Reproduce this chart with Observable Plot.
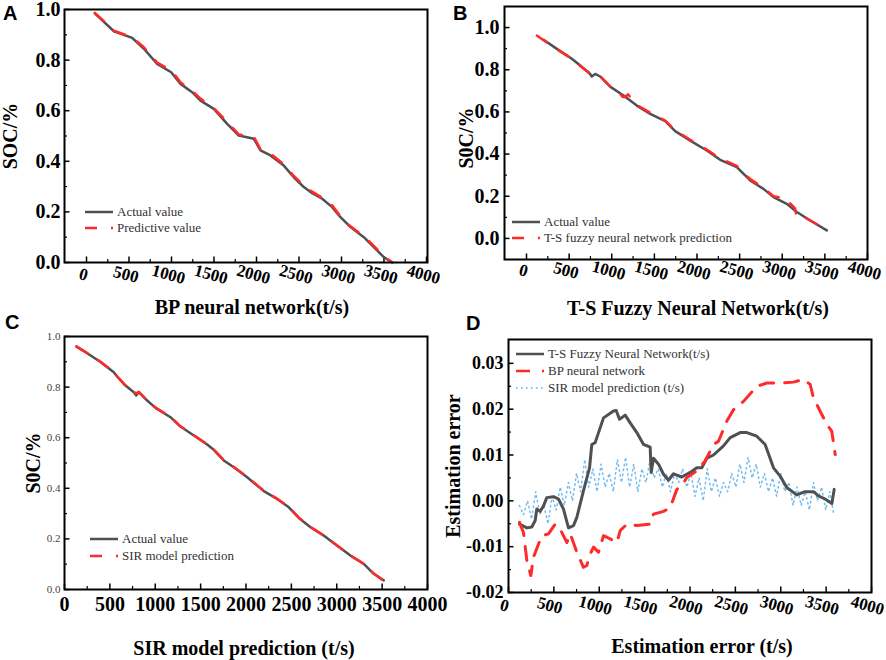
<!DOCTYPE html>
<html><head><meta charset="utf-8">
<script src="https://cdn.jsdelivr.net/npm/d3@7"></script>
<script src="https://cdn.jsdelivr.net/npm/@observablehq/plot@0.6"></script>
<style>
body{margin:0;background:#fff;}
#wrap{position:relative;width:886px;height:660px;overflow:hidden;background:#fff;font-family:"Liberation Serif","Times New Roman",serif;}
.panel{position:absolute;}
.panel svg{overflow:visible;}
.panel svg text{font-family:"Liberation Serif","Times New Roman",serif !important;}
.letter{position:absolute;font-family:"Liberation Sans",Arial,sans-serif;font-weight:bold;font-size:20px;line-height:1;color:#000;}
.title{position:absolute;font-weight:bold;font-size:20px;white-space:nowrap;line-height:1;transform:translate(-50%,-50%);color:#000;}
.ytitle{position:absolute;font-weight:bold;font-size:20px;white-space:nowrap;line-height:1;transform:translate(-50%,-50%) rotate(-90deg);color:#000;}
.lrow{position:absolute;white-space:nowrap;height:16px;display:flex;align-items:center;font-size:13px;color:#333;}
.lrow svg{margin-right:4px;}
</style></head><body><div id="wrap"></div>
<script>
// ---------- tick values ----------
const xTicks = [0,500,1000,1500,2000,2500,3000,3500,4000];
const xMinor = [250,750,1250,1750,2250,2750,3250,3750];
const yTicksSOC = [0,0.2,0.4,0.6,0.8,1.0];
const yMinorSOC = [0.1,0.3,0.5,0.7,0.9];
const yTicksErr = [-0.02,-0.01,0,0.01,0.02,0.03];
const yMinorErr = [-0.015,-0.005,0.005,0.015,0.025];

// ---------- Panel A : BP neural network ----------
const aTime   = [98,322,537,675,831,996,1106,1243,1341,1498,1655,1792,1969,2047,2165,2321,2439,2557,2655,2773,2890,2988,3106,3263,3380,3498,3596];
const aActual = [0.985,0.914,0.888,0.845,0.785,0.752,0.706,0.673,0.640,0.607,0.548,0.502,0.489,0.443,0.423,0.383,0.337,0.298,0.274,0.252,0.219,0.179,0.140,0.100,0.061,0.021,0.001];
const aPred   = [0.987,0.916,0.890,0.851,0.790,0.760,0.712,0.678,0.648,0.610,0.556,0.506,0.497,0.447,0.430,0.388,0.342,0.303,0.280,0.256,0.226,0.183,0.143,0.104,0.066,0.024,0.000];

// ---------- Panel B : T-S fuzzy neural network ----------
const bTime   = [200,356,532,630,747,766,806,864,981,1138,1294,1451,1627,1744,1920,2115,2272,2467,2624,2780,2897,3053,3171,3327,3523];
const bActual = [0.942,0.899,0.852,0.820,0.780,0.768,0.780,0.768,0.720,0.678,0.630,0.591,0.556,0.509,0.464,0.417,0.373,0.338,0.275,0.235,0.196,0.164,0.125,0.085,0.038];
const bPredTime = [121,200,356,532,630,747,806,864,981,1080,1125,1160,1190,1294,1451,1627,1744,1920,2115,2272,2467,2624,2780,2897,2960,3030,3150,3165,3200,3327,3523];
const bPred     = [0.962,0.940,0.898,0.852,0.818,0.782,0.778,0.770,0.722,0.695,0.672,0.670,0.684,0.634,0.596,0.559,0.513,0.468,0.421,0.379,0.344,0.281,0.241,0.200,0.195,0.193,0.142,0.106,0.112,0.086,0.040];

// ---------- Panel C : SIR model ----------
const cTime   = [132,250,397,543,580,672,764,790,819,911,1003,1168,1278,1425,1572,1645,1755,1866,2013,2196,2343,2472,2582,2711,2857,2968,3151,3298,3408,3518];
const cActual = [0.960,0.934,0.899,0.859,0.842,0.806,0.780,0.767,0.780,0.747,0.718,0.681,0.644,0.609,0.573,0.552,0.510,0.483,0.444,0.389,0.358,0.325,0.283,0.246,0.213,0.183,0.134,0.101,0.062,0.036];
const cPred   = [0.961,0.935,0.900,0.860,0.843,0.806,0.781,0.775,0.781,0.748,0.719,0.682,0.645,0.610,0.574,0.553,0.511,0.484,0.445,0.390,0.359,0.326,0.284,0.247,0.214,0.184,0.135,0.102,0.063,0.034];

// ---------- Panel D : estimation error ----------
const dTsTime = [121,202,257,294,312,349,386,422,496,551,606,661,716,753,826,893,918,955,1047,1157,1187,1223,1286,1341,1414,1488,1561,1572,1598,1653,1708,1763,1818,1910,2002,2075,2130,2185,2259,2369,2443,2553,2626,2736,2828,2920,2993,3066,3176,3268,3360,3415,3489,3563,3589];
const dTsErr  = [-0.0051,-0.0059,-0.0057,-0.0043,-0.0018,-0.0023,-0.0011,0.0007,0.0009,0.0004,-0.0018,-0.0059,-0.0054,-0.0036,0.0022,0.0072,0.0123,0.0127,0.0181,0.0196,0.0197,0.0178,0.0187,0.0170,0.0149,0.0123,0.0117,0.0062,0.0093,0.0080,0.0058,0.0045,0.0059,0.0052,0.0062,0.0072,0.0072,0.0093,0.0100,0.0120,0.0138,0.0149,0.0149,0.0141,0.0123,0.0072,0.0054,0.0029,0.0013,0.0020,0.0020,0.0011,0.0004,-0.0006,0.0025];
const dBpTime = [121,165,202,246,275,331,367,441,514,570,643,680,753,826,863,900,937,992,1047,1120,1194,1231,1304,1414,1561,1598,1708,1782,1855,1910,1965,2075,2167,2259,2314,2406,2480,2590,2736,2847,2994,3140,3250,3324,3360,3433,3507,3562,3600];
const dBpErr  = [-0.0047,-0.0069,-0.0130,-0.0163,-0.0123,-0.0094,-0.0076,-0.0072,-0.0051,-0.0062,-0.0091,-0.0072,-0.0112,-0.0145,-0.0141,-0.0116,-0.0101,-0.0112,-0.0076,-0.0083,-0.0091,-0.0065,-0.0051,-0.0054,-0.0051,-0.0029,-0.0023,-0.0015,0.0025,0.0033,0.0051,0.0065,0.0087,0.0123,0.0130,0.0174,0.0199,0.0217,0.0250,0.0257,0.0257,0.0259,0.0265,0.0254,0.0225,0.0196,0.0167,0.0152,0.0101];
const dSirTime = [120,165,210,255,300,345,390,435,480,525,570,615,660,705,750,795,840,885,930,975,1020,1065,1110,1155,1200,1245,1290,1335,1380,1425,1470,1515,1560,1605,1650,1695,1740,1785,1830,1875,1920,1965,2010,2055,2100,2145,2190,2235,2280,2325,2370,2415,2460,2505,2550,2595,2640,2685,2730,2775,2820,2865,2910,2955,3000,3045,3090,3135,3180,3225,3270,3315,3360,3405,3450,3495,3540,3585];
const dSirErr  = [-0.001,-0.003,0.000,-0.004,0.002,-0.003,-0.001,-0.005,0.001,-0.002,0.003,-0.001,0.004,0.000,0.006,0.002,0.009,0.003,0.007,0.002,0.008,0.003,0.006,0.002,0.009,0.004,0.0095,0.003,0.008,0.002,0.007,0.004,0.009,0.005,0.007,0.003,0.006,0.002,0.006,0.004,0.007,0.003,0.006,0.001,0.005,0.000,0.007,0.002,0.005,0.001,0.004,0.002,0.006,0.003,0.008,0.004,0.0095,0.005,0.008,0.003,0.006,0.002,0.005,0.001,0.006,0.002,0.004,-0.001,0.003,-0.001,0.002,-0.002,0.004,0.000,0.003,-0.002,0.002,-0.003];

// ---------- styles ----------
const GRAY = "#505050", RED = "#ff2a2a", BLUE = "#5cb0ec";
const SERIF = "'Liberation Serif', 'Times New Roman', serif";

const wrap = document.getElementById("wrap");
const toRows = (t, v) => t.map((x, i) => ({t: x, v: v[i]}));

function panel(cfg) {
  const {left, top, width, height, mL, mR, mT, mB, xDomain, yDomain, yT, yM, yFmt, lines, xStyle, yStyle} = cfg;
  const fw = width - mL - mR, fh = height - mT - mB;
  const marks = [
    Plot.ruleX(xMinor, {x: d => d, insetTop: fh - 3, stroke: "#000", strokeWidth: 1.2}),
    Plot.ruleX(xTicks, {x: d => d, insetTop: fh - 5.5, stroke: "#000", strokeWidth: 1.5}),
    Plot.ruleY(yM, {y: d => d, insetRight: fw - 3, stroke: "#000", strokeWidth: 1.2}),
    Plot.ruleY(yT, {y: d => d, insetRight: fw - 5.5, stroke: "#000", strokeWidth: 1.5}),
    ...lines.map(l => Plot.line(toRows(l.t, l.v), {x: "t", y: "v", stroke: l.stroke, strokeWidth: l.w, strokeDasharray: l.dash, strokeOpacity: l.op ?? 1, curve: "linear"})),
    Plot.frame({stroke: "#000", strokeWidth: 2}),
    Plot.axisX({ticks: xTicks, tickFormat: d => String(d), tickSize: 0, label: null, fontFamily: SERIF, fill: "#000", ...xStyle}),
    Plot.axisY({ticks: yT, tickFormat: yFmt, tickSize: 0, label: null, fontFamily: SERIF, ...yStyle})
  ];
  const p = Plot.plot({
    width, height, marginLeft: mL, marginRight: mR, marginTop: mT, marginBottom: mB,
    x: {domain: xDomain}, y: {domain: yDomain},
    style: {background: "transparent", overflow: "visible", fontFamily: SERIF},
    marks
  });
  p.querySelectorAll("text").forEach(t => t.style.fontFamily = SERIF);
  const div = document.createElement("div");
  div.className = "panel";
  div.style.left = left + "px"; div.style.top = top + "px";
  div.appendChild(p);
  wrap.appendChild(div);
}

function addText(cls, txt, x, y) {
  const d = document.createElement("div");
  d.className = cls; d.textContent = txt;
  d.style.left = x + "px"; d.style.top = y + "px";
  wrap.appendChild(d);
}

function legend(x, y0, gap, items) {
  items.forEach((it, i) => {
    const r = document.createElement("div");
    r.className = "lrow";
    r.style.left = x + "px"; r.style.top = (y0 + i * gap - 8) + "px";
    r.innerHTML = `<svg width="28" height="10"><line x1="0" y1="5" x2="28" y2="5" stroke="${it.stroke}" stroke-width="${it.w}" ${it.dash ? `stroke-dasharray="${it.dash}"` : ""}/></svg><span>${it.label}</span>`;
    wrap.appendChild(r);
  });
}

const f1 = d => d.toFixed(1), f2 = d => d.toFixed(2);
const bigY = {fontSize: 20, fontWeight: "bold", fill: "#000", tickPadding: 4};

// A
panel({left: 0, top: 0, width: 443, height: 320, mL: 64, mR: 16, mT: 9, mB: 58,
  xDomain: [-259, 4012], yDomain: [0, 1], yT: yTicksSOC, yM: yMinorSOC, yFmt: f1,
  lines: [{t: aTime, v: aActual, stroke: GRAY, w: 2.5}, {t: aTime, v: aPred, stroke: RED, w: 2.5, dash: "12,14"}],
  xStyle: {fontSize: 17, fontWeight: "bold", tickRotate: 15, textAnchor: "middle", tickPadding: 12, dx: -3},
  yStyle: bigY});
// B
panel({left: 443, top: 0, width: 443, height: 320, mL: 61, mR: 19, mT: 6, mB: 61,
  xDomain: [-258, 4000], yDomain: [-0.1, 1.1], yT: yTicksSOC, yM: yMinorSOC, yFmt: f1,
  lines: [{t: bTime, v: bActual, stroke: GRAY, w: 2.5}, {t: bPredTime, v: bPred, stroke: RED, w: 2.5, dash: "12,14"}],
  xStyle: {fontSize: 17, fontWeight: "bold", tickRotate: 15, textAnchor: "middle", tickPadding: 11, dx: -3},
  yStyle: {...bigY, tickPadding: 5}});
// C
panel({left: 0, top: 320, width: 443, height: 340, mL: 64, mR: 16, mT: 16, mB: 71,
  xDomain: [0, 4000], yDomain: [0, 1], yT: yTicksSOC, yM: yMinorSOC, yFmt: f1,
  lines: [{t: cTime, v: cActual, stroke: GRAY, w: 2.5}, {t: cTime, v: cPred, stroke: RED, w: 2.5, dash: "13,12"}],
  xStyle: {fontSize: 20, fontWeight: "bold", tickPadding: 7},
  yStyle: {fontSize: 11, fontWeight: "normal", fill: "#444", tickPadding: 4}});
// D
panel({left: 443, top: 320, width: 443, height: 340, mL: 65, mR: 15, mT: 19, mB: 68,
  xDomain: [0, 4000], yDomain: [-0.02, 0.0352], yT: yTicksErr, yM: yMinorErr, yFmt: f2,
  lines: [{t: dSirTime, v: dSirErr, stroke: BLUE, w: 1.5, dash: "1.5,3.5", op: 0.85},
          {t: dTsTime, v: dTsErr, stroke: GRAY, w: 3},
          {t: dBpTime, v: dBpErr, stroke: RED, w: 3, dash: "14,11"}],
  xStyle: {fontSize: 17, fontWeight: "bold", tickRotate: 15, textAnchor: "middle", tickPadding: 13, dx: -4},
  yStyle: {fontSize: 18, fontWeight: "bold", fill: "#000", tickPadding: 5}});

// panel letters
addText("letter", "A", 3, 2.5);
addText("letter", "B", 453, 2.5);
addText("letter", "C", 5, 311.5);
addText("letter", "D", 466, 312.5);

// axis titles
addText("title", "BP neural network(t/s)", 252, 307);
addText("title", "T-S Fuzzy Neural Network(t/s)", 698, 308);
addText("title", "SIR model prediction (t/s)", 244, 648);
addText("title", "Estimation error (t/s)", 702, 646);
addText("ytitle", "SOC/%", 10, 136);
addText("ytitle", "S0C/%", 466, 138);
addText("ytitle", "S0C/%", 33, 463);
addText("ytitle", "Estimation error", 453, 466);

// legends
legend(85, 212, 16, [
  {label: "Actual value", stroke: GRAY, w: 2.5},
  {label: "Predictive value", stroke: RED, w: 2.5, dash: "12,14"}]);
legend(512, 222, 16, [
  {label: "Actual value", stroke: GRAY, w: 2.5},
  {label: "T-S fuzzy neural network prediction", stroke: RED, w: 2.5, dash: "12,14"}]);
legend(90, 539, 16.5, [
  {label: "Actual value", stroke: GRAY, w: 2.5},
  {label: "SIR model prediction", stroke: RED, w: 2.5, dash: "12,14"}]);
legend(516, 354, 17, [
  {label: "T-S Fuzzy Neural Network(t/s)", stroke: GRAY, w: 2.5},
  {label: "BP neural network", stroke: RED, w: 2.5, dash: "14,12"},
  {label: "SIR model prediction (t/s)", stroke: BLUE, w: 1.5, dash: "1.5,3.5"}]);
</script></body></html>
